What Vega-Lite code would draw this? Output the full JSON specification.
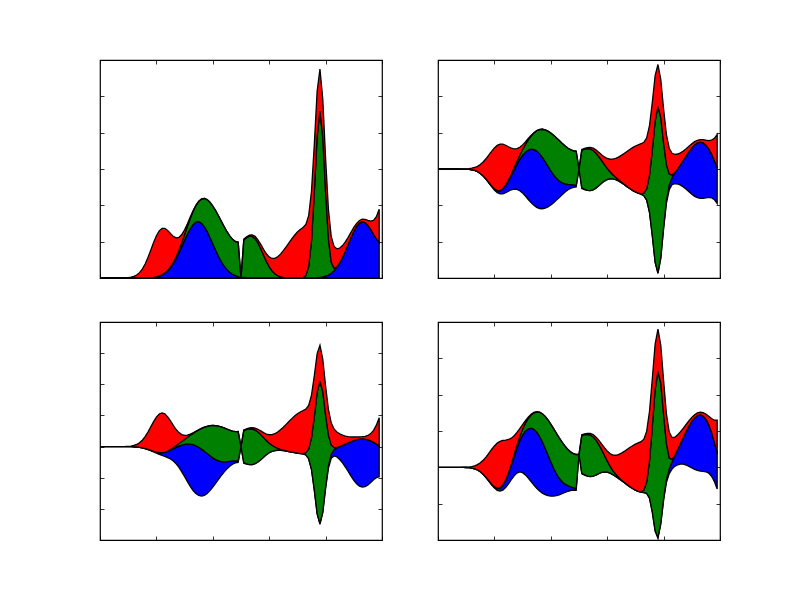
{
  "$schema": "https://vega.github.io/schema/vega-lite/v6.json",
  "background": "white",
  "padding": {"left": 96, "top": 59, "right": 0, "bottom": 0},
  "bounds": "flush",
  "spacing": {"row": 44, "column": 56},
  "columns": 2,
  "datasets": {
    "d": [
      {"x":0,"blue":0,"green":0,"red":0,"base2":3,"base3":3,"base4":2},
      {"x":1,"blue":0,"green":0,"red":0,"base2":3,"base3":3,"base4":2},
      {"x":2,"blue":0,"green":0,"red":0,"base2":3,"base3":3,"base4":2},
      {"x":3,"blue":0,"green":0,"red":0,"base2":3,"base3":3,"base4":2},
      {"x":4,"blue":0,"green":0,"red":0,"base2":3,"base3":3,"base4":2},
      {"x":5,"blue":0,"green":0,"red":0.0001,"base2":3,"base3":3,"base4":2},
      {"x":6,"blue":0,"green":0,"red":0.0002,"base2":2.9999,"base3":2.9999,"base4":1.9999},
      {"x":7,"blue":0,"green":0,"red":0.0006,"base2":2.9997,"base3":2.9999,"base4":1.9997},
      {"x":8,"blue":0,"green":0,"red":0.0016,"base2":2.9992,"base3":2.9997,"base4":1.9992},
      {"x":9,"blue":0,"green":0,"red":0.004,"base2":2.998,"base3":2.9993,"base4":1.998},
      {"x":10,"blue":0,"green":0,"red":0.0094,"base2":2.9953,"base3":2.9984,"base4":1.9953},
      {"x":11,"blue":0,"green":0,"red":0.0207,"base2":2.9897,"base3":2.9966,"base4":1.9897},
      {"x":12,"blue":0.0001,"green":0,"red":0.0427,"base2":2.9786,"base3":2.9928,"base4":1.9786},
      {"x":13,"blue":0.0003,"green":0,"red":0.082,"base2":2.9589,"base3":2.9861,"base4":1.959},
      {"x":14,"blue":0.0007,"green":0,"red":0.1468,"base2":2.9263,"base3":2.9749,"base4":1.9264},
      {"x":15,"blue":0.0014,"green":0.0001,"red":0.2452,"base2":2.8767,"base3":2.9579,"base4":1.8769},
      {"x":16,"blue":0.0028,"green":0.0001,"red":0.3823,"base2":2.8074,"base3":2.9339,"base4":1.8078},
      {"x":17,"blue":0.0055,"green":0.0003,"red":0.556,"base2":2.7191,"base3":2.9026,"base4":1.72},
      {"x":18,"blue":0.0101,"green":0.0005,"red":0.7544,"base2":2.6175,"base3":2.8656,"base4":1.6194},
      {"x":19,"blue":0.0182,"green":0.001,"red":0.9552,"base2":2.5128,"base3":2.8251,"base4":1.5169},
      {"x":20,"blue":0.0314,"green":0.0018,"red":1.1283,"base2":2.4193,"base3":2.7849,"base4":1.4278},
      {"x":21,"blue":0.0523,"green":0.0032,"red":1.2435,"base2":2.3505,"base3":2.7476,"base4":1.3672},
      {"x":22,"blue":0.0842,"green":0.0055,"red":1.2786,"base2":2.3159,"base3":2.714,"base4":1.3474},
      {"x":23,"blue":0.1307,"green":0.0091,"red":1.2267,"base2":2.3168,"base3":2.6821,"base4":1.3734},
      {"x":24,"blue":0.1957,"green":0.0148,"red":1.098,"base2":2.3458,"base3":2.6465,"base4":1.4424},
      {"x":25,"blue":0.2827,"green":0.0235,"red":0.917,"base2":2.3884,"base3":2.5998,"base4":1.5433},
      {"x":26,"blue":0.394,"green":0.0362,"red":0.7145,"base2":2.4277,"base3":2.5345,"base4":1.659},
      {"x":27,"blue":0.5297,"green":0.0544,"red":0.5194,"base2":2.4483,"base3":2.4448,"base4":1.7664},
      {"x":28,"blue":0.6869,"green":0.0797,"red":0.3523,"base2":2.4406,"base3":2.329,"base4":1.8425},
      {"x":29,"blue":0.8593,"green":0.1138,"red":0.223,"base2":2.402,"base3":2.1898,"base4":1.8717},
      {"x":30,"blue":1.0371,"green":0.1582,"red":0.1316,"base2":2.3366,"base3":2.0347,"base4":1.8518},
      {"x":31,"blue":1.2074,"green":0.2145,"red":0.0725,"base2":2.2528,"base3":1.8745,"base4":1.7911},
      {"x":32,"blue":1.3561,"green":0.2834,"red":0.0373,"base2":2.1616,"base3":1.722,"base4":1.7042},
      {"x":33,"blue":1.4694,"green":0.3648,"red":0.0179,"base2":2.074,"base3":1.5901,"base4":1.606},
      {"x":34,"blue":1.5359,"green":0.4577,"red":0.008,"base2":1.9992,"base3":1.4899,"base4":1.5084},
      {"x":35,"blue":1.5487,"green":0.5598,"red":0.0033,"base2":1.9441,"base3":1.429,"base4":1.42},
      {"x":36,"blue":1.5065,"green":0.667,"red":0.0013,"base2":1.9126,"base3":1.4109,"base4":1.3459},
      {"x":37,"blue":1.4136,"green":0.7745,"red":0.0005,"base2":1.9057,"base3":1.4347,"base4":1.2883},
      {"x":38,"blue":1.2797,"green":0.8766,"red":0.0002,"base2":1.9218,"base3":1.4952,"base4":1.247},
      {"x":39,"blue":1.1175,"green":0.9669,"red":0.0001,"base2":1.9578,"base3":1.5853,"base4":1.2212},
      {"x":40,"blue":0.9415,"green":1.0394,"red":0.0001,"base2":2.0095,"base3":1.6957,"base4":1.2095},
      {"x":41,"blue":0.7651,"green":1.0894,"red":0.0001,"base2":2.0727,"base3":1.8177,"base4":1.2106},
      {"x":42,"blue":0.5999,"green":1.1139,"red":0.0002,"base2":2.143,"base3":1.9431,"base4":1.2229},
      {"x":43,"blue":0.4537,"green":1.1124,"red":0.0003,"base2":2.2168,"base3":2.0657,"base4":1.2449},
      {"x":44,"blue":0.331,"green":1.0878,"red":0.0005,"base2":2.2904,"base3":2.1802,"base4":1.2742},
      {"x":45,"blue":0.233,"green":1.0469,"red":0.0009,"base2":2.3596,"base3":2.2822,"base4":1.3069},
      {"x":46,"blue":0.1582,"green":0.9997,"red":0.0014,"base2":2.4204,"base3":2.3681,"base4":1.3383},
      {"x":47,"blue":0.1036,"green":0.9592,"red":0.0024,"base2":2.4674,"base3":2.4337,"base4":1.3621},
      {"x":48,"blue":0.0655,"green":0.9379,"red":0.0038,"base2":2.4964,"base3":2.4758,"base4":1.3732},
      {"x":49,"blue":0.0399,"green":0.9452,"red":0.006,"base2":2.5045,"base3":2.4931,"base4":1.3677},
      {"x":50,"blue":0,"green":0,"red":0,"base2":3,"base3":3,"base4":2.3589},
      {"x":51,"blue":0.0133,"green":1.042,"red":0.0141,"base2":2.4653,"base3":2.4656,"base4":1.8242},
      {"x":52,"blue":0.0073,"green":1.1044,"red":0.0211,"base2":2.4336,"base3":2.4382,"base4":1.7864},
      {"x":53,"blue":0.0038,"green":1.1455,"red":0.031,"base2":2.4099,"base3":2.4189,"base4":1.7566},
      {"x":54,"blue":0.002,"green":1.1423,"red":0.0446,"base2":2.4056,"base3":2.4198,"base4":1.7448},
      {"x":55,"blue":0.001,"green":1.0817,"red":0.0631,"base2":2.4271,"base3":2.4478,"base4":1.7555},
      {"x":56,"blue":0.0005,"green":0.9646,"red":0.0875,"base2":2.4737,"base3":2.5027,"base4":1.7858},
      {"x":57,"blue":0.0002,"green":0.8057,"red":0.1194,"base2":2.5374,"base3":2.5771,"base4":1.8252},
      {"x":58,"blue":0,"green":0.6283,"red":0.1598,"base2":2.606,"base3":2.6592,"base4":1.8596},
      {"x":59,"blue":0,"green":0.4565,"red":0.21,"base2":2.6668,"base3":2.7367,"base4":1.8762},
      {"x":60,"blue":0,"green":0.3088,"red":0.271,"base2":2.7101,"base3":2.8004,"base4":1.8687},
      {"x":61,"blue":0,"green":0.1943,"red":0.3434,"base2":2.7312,"base3":2.8456,"base4":1.8402},
      {"x":62,"blue":0,"green":0.1137,"red":0.4271,"base2":2.7296,"base3":2.872,"base4":1.7979},
      {"x":63,"blue":0,"green":0.0619,"red":0.5216,"base2":2.7083,"base3":2.8821,"base4":1.7485},
      {"x":64,"blue":0,"green":0.0315,"red":0.6254,"base2":2.6716,"base3":2.88,"base4":1.6948},
      {"x":65,"blue":0,"green":0.0148,"red":0.7363,"base2":2.6245,"base3":2.8699,"base4":1.6384},
      {"x":66,"blue":0,"green":0.0066,"red":0.851,"base2":2.5712,"base3":2.8549,"base4":1.5806},
      {"x":67,"blue":0,"green":0.0027,"red":0.9658,"base2":2.5158,"base3":2.8377,"base4":1.5231},
      {"x":68,"blue":0,"green":0.0011,"red":1.0759,"base2":2.4615,"base3":2.8201,"base4":1.4679},
      {"x":69,"blue":0,"green":0.0004,"red":1.1768,"base2":2.4114,"base3":2.8037,"base4":1.4175},
      {"x":70,"blue":0,"green":0.0002,"red":1.2639,"base2":2.368,"base3":2.7892,"base4":1.374},
      {"x":71,"blue":0.0001,"green":0.0012,"red":1.3327,"base2":2.333,"base3":2.7772,"base4":1.3394},
      {"x":72,"blue":0.0002,"green":0.0108,"red":1.3797,"base2":2.3047,"base3":2.7645,"base4":1.3158},
      {"x":73,"blue":0.0005,"green":0.0691,"red":1.4024,"base2":2.264,"base3":2.7313,"base4":1.3024},
      {"x":74,"blue":0.001,"green":0.3141,"red":1.3995,"base2":2.1427,"base3":2.6089,"base4":1.2816},
      {"x":75,"blue":0.0021,"green":1.0185,"red":1.3712,"base2":1.8041,"base3":2.2605,"base4":1.1512},
      {"x":76,"blue":0.0043,"green":2.3568,"red":1.319,"base2":1.16,"base3":1.5982,"base4":0.764},
      {"x":77,"blue":0.0084,"green":3.8904,"red":1.2457,"base2":0.4278,"base3":0.8402,"base4":0.246},
      {"x":78,"blue":0.0158,"green":4.5812,"red":1.1551,"base2":0.124,"base3":0.5037,"base4":0.0505},
      {"x":79,"blue":0.0285,"green":3.8486,"red":1.0516,"base2":0.5357,"base3":0.8767,"base4":0.4332},
      {"x":80,"blue":0.0493,"green":2.3065,"red":0.94,"base2":1.3521,"base3":1.649,"base4":1.0914},
      {"x":81,"blue":0.082,"green":0.986,"red":0.8249,"base2":2.0536,"base3":2.3012,"base4":1.5819},
      {"x":82,"blue":0.1307,"green":0.3007,"red":0.7108,"base2":2.4289,"base3":2.6223,"base4":1.8262},
      {"x":83,"blue":0.2004,"green":0.0654,"red":0.6013,"base2":2.5665,"base3":2.7001,"base4":1.953},
      {"x":84,"blue":0.2948,"green":0.0102,"red":0.4994,"base2":2.5978,"base3":2.666,"base4":2.0265},
      {"x":85,"blue":0.4166,"green":0.0011,"red":0.4072,"base2":2.5876,"base3":2.5844,"base4":2.0699},
      {"x":86,"blue":0.5653,"green":0.0001,"red":0.326,"base2":2.5543,"base3":2.4745,"base4":2.0896},
      {"x":87,"blue":0.7367,"green":0,"red":0.2564,"base2":2.5035,"base3":2.3433,"base4":2.0868},
      {"x":88,"blue":0.922,"green":0,"red":0.1981,"base2":2.44,"base3":2.1986,"base4":2.0636},
      {"x":89,"blue":1.1081,"green":0,"red":0.1506,"base2":2.3707,"base3":2.0515,"base4":2.0264},
      {"x":90,"blue":1.279,"green":0.0001,"red":0.1137,"base2":2.3036,"base3":1.9152,"base4":1.9832},
      {"x":91,"blue":1.418,"green":0.0001,"red":0.087,"base2":2.2475,"base3":1.8038,"base4":1.9437},
      {"x":92,"blue":1.5105,"green":0.0002,"red":0.0716,"base2":2.2089,"base3":1.7292,"base4":1.9146},
      {"x":93,"blue":1.5467,"green":0.0003,"red":0.0705,"base2":2.1913,"base3":1.6992,"base4":1.8982},
      {"x":94,"blue":1.5241,"green":0.0005,"red":0.0895,"base2":2.193,"base3":1.7147,"base4":1.8902},
      {"x":95,"blue":1.4486,"green":0.0008,"red":0.1386,"base2":2.206,"base3":1.7693,"base4":1.8774},
      {"x":96,"blue":1.3343,"green":0.0013,"red":0.2312,"base2":2.2166,"base3":1.8489,"base4":1.8399},
      {"x":97,"blue":1.2015,"green":0.0022,"red":0.383,"base2":2.2067,"base3":1.9338,"base4":1.756},
      {"x":98,"blue":1.0749,"green":0.0034,"red":0.6079,"base2":2.1569,"base3":2.0012,"base4":1.6112},
      {"x":99,"blue":0.9785,"green":0.0053,"red":0.9118,"base2":2.0522,"base3":2.03,"base4":1.4043}
    ]
  },
  "concat": [
    {
      "width": 282,
      "height": 218,
      "data": {"name": "d"},
      "transform": [
        {"fold": ["blue", "green", "red"], "as": ["layer", "v"]},
        {"stack": "v", "groupby": ["x"], "sort": [{"field": "layer", "order": "ascending"}], "as": ["y0", "y1"]}
      ],
      "layer": [
        {
          "mark": {"type": "area", "stroke": "black", "strokeWidth": 1.3, "opacity": 1, "clip": true},
          "encoding": {
            "x": {"field": "x", "type": "quantitative", "scale": {"domain": [0, 100]}, "axis": {"orient": "bottom", "values": [0, 20, 40, 60, 80, 100]}},
            "y": {"field": "y1", "type": "quantitative", "scale": {"domain": [0, 6], "nice": false}, "axis": {"orient": "left", "values": [0, 1, 2, 3, 4, 5, 6]}},
            "y2": {"field": "y0"},
            "color": {"field": "layer", "type": "nominal", "scale": {"domain": ["blue", "green", "red"], "range": ["#0000ff", "#008000", "#ff0000"]}, "legend": null}
          }
        },
        {
          "mark": {"type": "point", "opacity": 0},
          "encoding": {
            "x": {"field": "x", "type": "quantitative", "axis": {"orient": "top", "values": [0, 20, 40, 60, 80, 100]}},
            "y": {"field": "y1", "type": "quantitative", "axis": {"orient": "right", "values": [0, 1, 2, 3, 4, 5, 6]}}
          }
        }
      ],
      "resolve": {"axis": {"x": "independent", "y": "independent"}}
    },
    {
      "width": 282,
      "height": 218,
      "data": {"name": "d"},
      "transform": [
        {"fold": ["base2", "blue", "green", "red"], "as": ["layer", "v"]},
        {"stack": "v", "groupby": ["x"], "sort": [{"field": "layer", "order": "ascending"}], "as": ["y0", "y1"]},
        {"filter": {"field": "layer", "oneOf": ["blue", "green", "red"]}}
      ],
      "layer": [
        {
          "mark": {"type": "area", "stroke": "black", "strokeWidth": 1.3, "opacity": 1, "clip": true},
          "encoding": {
            "x": {"field": "x", "type": "quantitative", "scale": {"domain": [0, 100]}, "axis": {"orient": "bottom", "values": [0, 20, 40, 60, 80, 100]}},
            "y": {"field": "y1", "type": "quantitative", "scale": {"domain": [0, 6], "nice": false}, "axis": {"orient": "left", "values": [0, 1, 2, 3, 4, 5, 6]}},
            "y2": {"field": "y0"},
            "color": {"field": "layer", "type": "nominal", "scale": {"domain": ["blue", "green", "red"], "range": ["#0000ff", "#008000", "#ff0000"]}, "legend": null}
          }
        },
        {
          "mark": {"type": "point", "opacity": 0},
          "encoding": {
            "x": {"field": "x", "type": "quantitative", "axis": {"orient": "top", "values": [0, 20, 40, 60, 80, 100]}},
            "y": {"field": "y1", "type": "quantitative", "axis": {"orient": "right", "values": [0, 1, 2, 3, 4, 5, 6]}}
          }
        }
      ],
      "resolve": {"axis": {"x": "independent", "y": "independent"}}
    },
    {
      "width": 282,
      "height": 218,
      "data": {"name": "d"},
      "transform": [
        {"fold": ["base3", "blue", "green", "red"], "as": ["layer", "v"]},
        {"stack": "v", "groupby": ["x"], "sort": [{"field": "layer", "order": "ascending"}], "as": ["y0", "y1"]},
        {"filter": {"field": "layer", "oneOf": ["blue", "green", "red"]}}
      ],
      "layer": [
        {
          "mark": {"type": "area", "stroke": "black", "strokeWidth": 1.3, "opacity": 1, "clip": true},
          "encoding": {
            "x": {"field": "x", "type": "quantitative", "scale": {"domain": [0, 100]}, "axis": {"orient": "bottom", "values": [0, 20, 40, 60, 80, 100]}},
            "y": {"field": "y1", "type": "quantitative", "scale": {"domain": [0, 7], "nice": false}, "axis": {"orient": "left", "values": [0, 1, 2, 3, 4, 5, 6, 7]}},
            "y2": {"field": "y0"},
            "color": {"field": "layer", "type": "nominal", "scale": {"domain": ["blue", "green", "red"], "range": ["#0000ff", "#008000", "#ff0000"]}, "legend": null}
          }
        },
        {
          "mark": {"type": "point", "opacity": 0},
          "encoding": {
            "x": {"field": "x", "type": "quantitative", "axis": {"orient": "top", "values": [0, 20, 40, 60, 80, 100]}},
            "y": {"field": "y1", "type": "quantitative", "axis": {"orient": "right", "values": [0, 1, 2, 3, 4, 5, 6, 7]}}
          }
        }
      ],
      "resolve": {"axis": {"x": "independent", "y": "independent"}}
    },
    {
      "width": 282,
      "height": 218,
      "data": {"name": "d"},
      "transform": [
        {"fold": ["base4", "blue", "green", "red"], "as": ["layer", "v"]},
        {"stack": "v", "groupby": ["x"], "sort": [{"field": "layer", "order": "ascending"}], "as": ["y0", "y1"]},
        {"filter": {"field": "layer", "oneOf": ["blue", "green", "red"]}}
      ],
      "layer": [
        {
          "mark": {"type": "area", "stroke": "black", "strokeWidth": 1.3, "opacity": 1, "clip": true},
          "encoding": {
            "x": {"field": "x", "type": "quantitative", "scale": {"domain": [0, 100]}, "axis": {"orient": "bottom", "values": [0, 20, 40, 60, 80, 100]}},
            "y": {"field": "y1", "type": "quantitative", "scale": {"domain": [0, 6], "nice": false}, "axis": {"orient": "left", "values": [0, 1, 2, 3, 4, 5, 6]}},
            "y2": {"field": "y0"},
            "color": {"field": "layer", "type": "nominal", "scale": {"domain": ["blue", "green", "red"], "range": ["#0000ff", "#008000", "#ff0000"]}, "legend": null}
          }
        },
        {
          "mark": {"type": "point", "opacity": 0},
          "encoding": {
            "x": {"field": "x", "type": "quantitative", "axis": {"orient": "top", "values": [0, 20, 40, 60, 80, 100]}},
            "y": {"field": "y1", "type": "quantitative", "axis": {"orient": "right", "values": [0, 1, 2, 3, 4, 5, 6]}}
          }
        }
      ],
      "resolve": {"axis": {"x": "independent", "y": "independent"}}
    }
  ],
  "config": {
    "view": {"stroke": "black", "strokeWidth": 1.2},
    "axis": {
      "labels": false,
      "title": null,
      "grid": false,
      "domain": false,
      "ticks": true,
      "tickSize": -4,
      "tickColor": "black",
      "tickWidth": 0.8,
      "minExtent": 0,
      "maxExtent": 0
    }
  }
}
